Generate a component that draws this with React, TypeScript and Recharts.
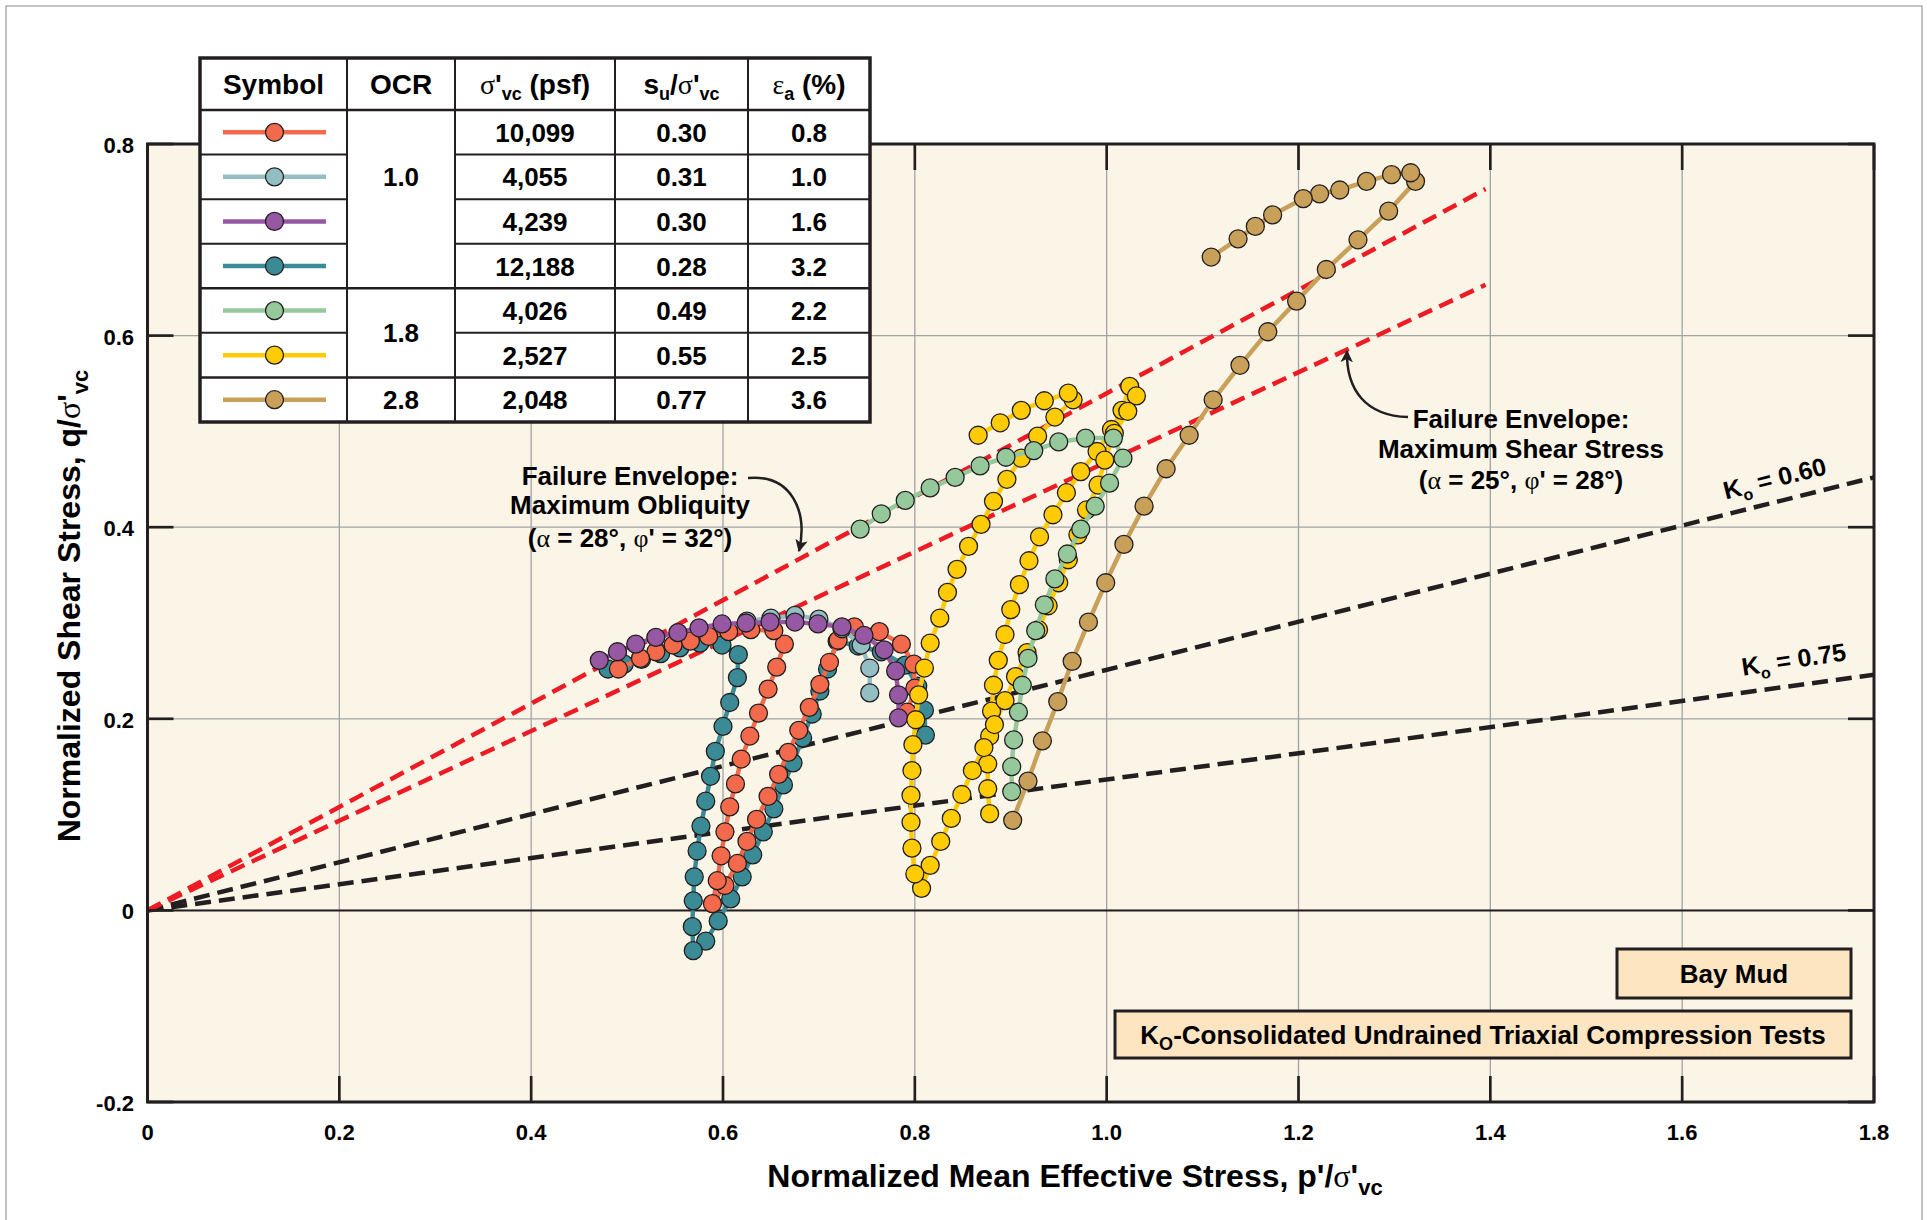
import React from 'react';
import { ScatterChart, Scatter, XAxis, YAxis, CartesianGrid } from 'recharts';

type Pt = [number, number];

// axis ticks
const xTicks = [0, 0.2, 0.4, 0.6, 0.8, 1.0, 1.2, 1.4, 1.6, 1.8];
const yTicks = [-0.2, 0, 0.2, 0.4, 0.6, 0.8];

// stress paths, [p'/s'vc, q/s'vc]
const test10099: Pt[] = [
  [0.792, 0.207], [0.8, 0.232], [0.799, 0.257], [0.786, 0.278], [0.763, 0.291], [0.737, 0.296],
  [0.72, 0.282], [0.711, 0.259], [0.701, 0.236], [0.69, 0.212], [0.679, 0.188], [0.668, 0.165],
  [0.658, 0.142], [0.647, 0.119], [0.635, 0.095], [0.625, 0.072], [0.615, 0.049], [0.602, 0.026],
  [0.589, 0.007], [0.594, 0.031], [0.598, 0.057], [0.602, 0.082], [0.607, 0.108], [0.613, 0.132],
  [0.619, 0.158], [0.628, 0.182], [0.637, 0.206], [0.647, 0.231], [0.656, 0.254], [0.664, 0.278],
  [0.653, 0.292], [0.629, 0.293], [0.606, 0.291], [0.585, 0.286], [0.566, 0.281], [0.548, 0.277],
  [0.53, 0.27], [0.514, 0.263], [0.491, 0.252],
];
const test4055: Pt[] = [
  [0.753, 0.227], [0.753, 0.253], [0.744, 0.277], [0.724, 0.294], [0.7, 0.304], [0.675, 0.308],
  [0.65, 0.305], [0.625, 0.302],
];
const test4239: Pt[] = [
  [0.783, 0.201], [0.783, 0.225], [0.78, 0.25], [0.768, 0.272], [0.747, 0.287], [0.724, 0.296],
  [0.699, 0.299], [0.675, 0.301], [0.649, 0.301], [0.624, 0.3], [0.599, 0.299], [0.575, 0.295],
  [0.553, 0.29], [0.53, 0.285], [0.509, 0.278], [0.49, 0.27], [0.471, 0.261],
];
const test12188: Pt[] = [
  [0.811, 0.183], [0.81, 0.209], [0.803, 0.234], [0.79, 0.256], [0.765, 0.27], [0.741, 0.276],
  [0.719, 0.281], [0.709, 0.252], [0.701, 0.229], [0.693, 0.205], [0.683, 0.18], [0.673, 0.154],
  [0.663, 0.131], [0.653, 0.106], [0.642, 0.082], [0.631, 0.058], [0.62, 0.035], [0.608, 0.012],
  [0.595, -0.011], [0.582, -0.032], [0.569, -0.042], [0.568, -0.017], [0.569, 0.01], [0.57, 0.035],
  [0.573, 0.062], [0.577, 0.088], [0.582, 0.114], [0.587, 0.14], [0.592, 0.166], [0.6, 0.192],
  [0.607, 0.217], [0.615, 0.243], [0.616, 0.267], [0.599, 0.277], [0.576, 0.279], [0.555, 0.274],
  [0.535, 0.268], [0.515, 0.262], [0.497, 0.257], [0.48, 0.252],
];
const test4026: Pt[] = [
  [0.901, 0.124], [0.901, 0.15], [0.903, 0.178], [0.908, 0.207], [0.912, 0.235], [0.918, 0.263],
  [0.926, 0.292], [0.935, 0.319], [0.946, 0.346], [0.959, 0.372], [0.973, 0.398], [0.988, 0.422],
  [1.003, 0.446], [1.017, 0.472], [1.007, 0.493], [0.978, 0.493], [0.95, 0.489], [0.924, 0.48],
  [0.895, 0.473], [0.868, 0.464], [0.842, 0.452], [0.816, 0.441], [0.79, 0.428], [0.765, 0.414],
  [0.743, 0.398],
];
const test2527: Pt[] = [
  [0.878, 0.101], [0.876, 0.127], [0.876, 0.153], [0.878, 0.182], [0.88, 0.208], [0.882, 0.235],
  [0.887, 0.261], [0.894, 0.288], [0.9, 0.314], [0.909, 0.34], [0.919, 0.365], [0.93, 0.39],
  [0.944, 0.413], [0.958, 0.436], [0.973, 0.458], [0.99, 0.479], [1.005, 0.502], [1.016, 0.522],
  [1.024, 0.547], [1.031, 0.537], [1.022, 0.521], [1.008, 0.498], [0.998, 0.47], [0.991, 0.444],
  [0.979, 0.418], [0.97, 0.392], [0.96, 0.366], [0.95, 0.342], [0.939, 0.318], [0.929, 0.293],
  [0.917, 0.269], [0.905, 0.244], [0.894, 0.219], [0.883, 0.194], [0.872, 0.17], [0.86, 0.146],
  [0.849, 0.121], [0.838, 0.096], [0.827, 0.072], [0.816, 0.047], [0.807, 0.023], [0.8, 0.038],
  [0.797, 0.065], [0.796, 0.092], [0.796, 0.12], [0.797, 0.146], [0.798, 0.173], [0.801, 0.199],
  [0.804, 0.225], [0.81, 0.253], [0.816, 0.279], [0.826, 0.305], [0.834, 0.332], [0.844, 0.356],
  [0.856, 0.38], [0.869, 0.403], [0.882, 0.427], [0.896, 0.45], [0.911, 0.472], [0.928, 0.495],
  [0.946, 0.515], [0.965, 0.533], [0.96, 0.54], [0.935, 0.532], [0.911, 0.522], [0.889, 0.509],
  [0.866, 0.496],
];
const test2048: Pt[] = [
  [0.902, 0.094], [0.918, 0.135], [0.933, 0.177], [0.949, 0.218], [0.964, 0.26], [0.981, 0.301],
  [0.999, 0.342], [1.018, 0.382], [1.039, 0.422], [1.062, 0.461], [1.086, 0.496], [1.111, 0.533],
  [1.139, 0.569], [1.168, 0.604], [1.198, 0.636], [1.229, 0.669], [1.262, 0.7], [1.294, 0.73],
  [1.322, 0.761], [1.317, 0.77], [1.297, 0.768], [1.271, 0.761], [1.243, 0.752], [1.222, 0.748],
  [1.205, 0.743], [1.173, 0.726], [1.155, 0.714], [1.137, 0.701], [1.109, 0.682],
];

// reference lines
const envelopeObliquity: Pt[] = [[0, 0], [1.395, 0.753]];
const envelopeShear: Pt[] = [[0, 0], [1.395, 0.653]];
const ko060: Pt[] = [[0, 0], [1.8, 0.452]];
const ko075: Pt[] = [[0, 0], [1.8, 0.246]];
const zeroLine: Pt[] = [[0, 0], [1.8, 0]];

// legend table
const stressLabels = ['10,099', '4,055', '4,239', '12,188', '4,026', '2,527', '2,048'];
const suRatios = ['0.30', '0.31', '0.30', '0.28', '0.49', '0.55', '0.77'];
const strains = ['0.8', '1.0', '1.6', '3.2', '2.2', '2.5', '3.6'];
const ocrGroups = [
  { label: '1.0', rows: 4, labelRows: 3 },
  { label: '1.8', rows: 2, labelRows: 2 },
  { label: '2.8', rows: 1, labelRows: 1 },
];
const legendColors = ['#f26a4b', '#93bfc4', '#9657a3', '#3b8b96', '#95c99b', '#ffcb05', '#c8a05a'];

const FONT = '"Liberation Sans", Arial, sans-serif';
const SERIF = '"Liberation Serif", "DejaVu Serif", serif';
const INK = '#231f20';
const W = 1927;
const H = 1220;
const PLOT = { left: 147.5, top: 144, right: 1874, bottom: 1102 };

const toPoints = (pts: Pt[]) => pts.map(([p, q]) => ({ p, q }));
const fmt = (v: number) => (v === 0 ? '0' : v.toFixed(1));

const dot = (color: string) => (props: any) => (
  <circle cx={props.cx} cy={props.cy} r={9} fill={color} stroke={INK} strokeWidth={1.3} />
);
const noDot = () => <g />;

const XTick = (props: any) => {
  const { x, payload } = props;
  return (
    <g>
      <line x1={x} x2={x} y1={PLOT.bottom} y2={PLOT.bottom - 26} stroke={INK} strokeWidth={2.7} />
      <line x1={x} x2={x} y1={PLOT.top} y2={PLOT.top + 26} stroke={INK} strokeWidth={2.7} />
      <text x={x} y={1140} textAnchor="middle" fontFamily={FONT} fontWeight="bold" fontSize={22} fill="#000">
        {fmt(payload.value)}
      </text>
    </g>
  );
};

const YTick = (props: any) => {
  const { y, payload } = props;
  return (
    <g>
      <line x1={PLOT.left} x2={PLOT.left + 26} y1={y} y2={y} stroke={INK} strokeWidth={2.7} />
      <line x1={PLOT.right} x2={PLOT.right - 26} y1={y} y2={y} stroke={INK} strokeWidth={2.7} />
      <text x={134} y={y + 9} textAnchor="end" fontFamily={FONT} fontWeight="bold" fontSize={22} fill="#000">
        {fmt(payload.value)}
      </text>
    </g>
  );
};

const dashed = [
  { data: ko075, color: INK, dash: '16 8' },
  { data: ko060, color: INK, dash: '16 8' },
  { data: envelopeShear, color: '#ed1c24', dash: '15 8' },
  { data: envelopeObliquity, color: '#ed1c24', dash: '15 8' },
];

// drawing order as seen in the figure
const tests = [
  { data: test12188, color: legendColors[3] },
  { data: test10099, color: legendColors[0] },
  { data: test4055, color: legendColors[1] },
  { data: test4239, color: legendColors[2] },
  { data: test2527, color: legendColors[5] },
  { data: test4026, color: legendColors[4] },
  { data: test2048, color: legendColors[6] },
];

const TBL = { x: [200, 347, 455, 615, 748, 870], top: 58, head: 110, bottom: 422 };

const LegendTable = () => {
  const rowH = (TBL.bottom - TBL.head) / stressLabels.length;
  const rowTop = (i: number) => TBL.head + i * rowH;
  const cx = (c: number) => (TBL.x[c] + TBL.x[c + 1]) / 2;
  const groupEnds: number[] = [];
  let acc = 0;
  ocrGroups.forEach((g) => { acc += g.rows; groupEnds.push(acc); });
  const cell = { fontFamily: FONT, fontWeight: 'bold' as const, fontSize: 26, textAnchor: 'middle' as const, fill: '#000' };
  const head = { ...cell, fontSize: 28 };
  const hy = (TBL.top + TBL.head) / 2 + 10;
  return (
    <g>
      <rect x={TBL.x[0]} y={TBL.top} width={TBL.x[5] - TBL.x[0]} height={TBL.bottom - TBL.top} fill="#fff" />
      {stressLabels.map((_, i) => {
        const y = rowTop(i + 1);
        if (i === stressLabels.length - 1) return null;
        const full = groupEnds.includes(i + 1);
        return full ? (
          <line key={i} x1={TBL.x[0]} x2={TBL.x[5]} y1={y} y2={y} stroke={INK} strokeWidth={2.5} />
        ) : (
          <g key={i}>
            <line x1={TBL.x[0]} x2={TBL.x[1]} y1={y} y2={y} stroke={INK} strokeWidth={2} />
            <line x1={TBL.x[2]} x2={TBL.x[5]} y1={y} y2={y} stroke={INK} strokeWidth={2} />
          </g>
        );
      })}
      <line x1={TBL.x[0]} x2={TBL.x[5]} y1={TBL.head} y2={TBL.head} stroke={INK} strokeWidth={2.5} />
      {TBL.x.slice(1, 5).map((x) => (
        <line key={x} x1={x} x2={x} y1={TBL.top} y2={TBL.bottom} stroke={INK} strokeWidth={2} />
      ))}
      <rect x={TBL.x[0]} y={TBL.top} width={TBL.x[5] - TBL.x[0]} height={TBL.bottom - TBL.top} fill="none" stroke={INK} strokeWidth={3.5} />

      <text x={cx(0)} y={hy} {...head}>Symbol</text>
      <text x={cx(1)} y={hy} {...head}>OCR</text>
      <text x={cx(2)} y={hy} {...head}>
        <tspan fontFamily={SERIF} fontWeight="normal">σ</tspan>'<tspan fontSize={18} dy={6}>vc</tspan>
        <tspan dy={-6}> (psf)</tspan>
      </text>
      <text x={cx(3)} y={hy} {...head}>
        s<tspan fontSize={18} dy={6}>u</tspan><tspan dy={-6}>/</tspan>
        <tspan fontFamily={SERIF} fontWeight="normal">σ</tspan>'<tspan fontSize={18} dy={6}>vc</tspan>
      </text>
      <text x={cx(4)} y={hy} {...head}>
        <tspan fontFamily={SERIF} fontWeight="normal">ε</tspan><tspan fontSize={18} dy={6}>a</tspan>
        <tspan dy={-6}> (%)</tspan>
      </text>

      {stressLabels.map((s, i) => {
        const yc = rowTop(i) + rowH / 2;
        return (
          <g key={s + i}>
            <line x1={223} x2={326} y1={yc} y2={yc} stroke={legendColors[i]} strokeWidth={4.5} />
            <circle cx={274.5} cy={yc} r={9} fill={legendColors[i]} stroke={INK} strokeWidth={1.3} />
            <text x={cx(2)} y={yc + 9.5} {...cell}>{s}</text>
            <text x={cx(3)} y={yc + 9.5} {...cell}>{suRatios[i]}</text>
            <text x={cx(4)} y={yc + 9.5} {...cell}>{strains[i]}</text>
          </g>
        );
      })}
      {ocrGroups.map((g, gi) => {
        const start = gi === 0 ? 0 : groupEnds[gi - 1];
        const yc = rowTop(start) + (g.labelRows * rowH) / 2;
        return <text key={g.label} x={cx(1)} y={yc + 9.5} {...cell}>{g.label}</text>;
      })}
    </g>
  );
};

const Overlay = () => {
  const txt = { fontFamily: FONT, fontWeight: 'bold' as const, fontSize: 26, textAnchor: 'middle' as const, fill: '#000' };
  const greek = { fontFamily: SERIF, fontWeight: 'normal' as const };
  return (
    <svg width={W} height={H} style={{ position: 'absolute', left: 0, top: 0, pointerEvents: 'none' }}>
      <defs>
        <marker id="arrowHead" viewBox="0 0 10 10" refX={9} refY={5} markerWidth={5} markerHeight={5} orient="auto">
          <path d="M0,0 L10,5 L0,10 L2.5,5 z" fill={INK} />
        </marker>
      </defs>
      <rect x={6} y={6} width={1916} height={1240} fill="none" stroke="#9a9a9a" strokeWidth={1.2} />
      <rect x={PLOT.left} y={PLOT.top} width={PLOT.right - PLOT.left} height={PLOT.bottom - PLOT.top} fill="none" stroke={INK} strokeWidth={3} />

      <LegendTable />

      {/* envelope annotations */}
      <text x={630} y={485} {...txt}>Failure Envelope:</text>
      <text x={630} y={514} {...txt}>Maximum Obliquity</text>
      <text x={630} y={547} {...txt}>
        (<tspan {...greek}>α</tspan> = 28°, <tspan {...greek}>φ</tspan>' = 32°)
      </text>
      <path d="M 748 478 C 792 474, 808 512, 799 551" fill="none" stroke={INK} strokeWidth={2.5} markerEnd="url(#arrowHead)" />

      <text x={1521} y={428} {...txt}>Failure Envelope:</text>
      <text x={1521} y={458} {...txt}>Maximum Shear Stress</text>
      <text x={1521} y={489} {...txt}>
        (<tspan {...greek}>α</tspan> = 25°, <tspan {...greek}>φ</tspan>' = 28°)
      </text>
      <path d="M 1408 417 C 1366 416, 1346 390, 1347 351" fill="none" stroke={INK} strokeWidth={2.5} markerEnd="url(#arrowHead)" />

      <text x={1775} y={487} {...txt} fontSize={25} transform="rotate(-14 1775 480)">
        K<tspan fontSize={16} dy={6}>o</tspan><tspan dy={-6}> = 0.60</tspan>
      </text>
      <text x={1794} y={668} {...txt} fontSize={25} transform="rotate(-8.5 1794 661)">
        K<tspan fontSize={16} dy={6}>o</tspan><tspan dy={-6}> = 0.75</tspan>
      </text>

      {/* boxes */}
      <rect x={1617} y={949} width={234} height={49} fill="#fde5c2" stroke={INK} strokeWidth={3} />
      <text x={1734} y={983} {...txt}>Bay Mud</text>
      <rect x={1115} y={1011} width={736} height={47} fill="#fde5c2" stroke={INK} strokeWidth={3} />
      <text x={1483} y={1044} {...txt}>
        K<tspan fontSize={18} dy={6}>O</tspan><tspan dy={-6}>-Consolidated Undrained Triaxial Compression Tests</tspan>
      </text>

      {/* axis titles */}
      <text x={1075} y={1187} {...txt} fontSize={32}>
        Normalized Mean Effective Stress, p'/<tspan {...greek}>σ</tspan>'<tspan fontSize={22} dy={8}>vc</tspan>
      </text>
      <text x={80} y={606} {...txt} fontSize={32} transform="rotate(-90 80 606)">
        Normalized Shear Stress, q/<tspan {...greek}>σ</tspan>'<tspan fontSize={22} dy={8}>vc</tspan>
      </text>
    </svg>
  );
};

export default function App() {
  return (
    <div style={{ position: 'absolute', left: 0, top: 0, width: W, height: H, background: '#fff' }}>
      <ScatterChart
        width={W}
        height={H}
        margin={{ top: PLOT.top, right: W - PLOT.right, bottom: H - PLOT.bottom - 30, left: PLOT.left - 60 }}
      >
        <CartesianGrid stroke="#a3a3a3" strokeWidth={1.3} fill="#fbf5e8" fillOpacity={1} />
        <XAxis
          type="number"
          dataKey="p"
          domain={[0, 1.8]}
          ticks={xTicks}
          interval={0}
          height={30}
          axisLine={false}
          tickLine={false}
          tick={(props: any) => <XTick {...props} />}
          allowDataOverflow
        />
        <YAxis
          type="number"
          dataKey="q"
          domain={[-0.2, 0.8]}
          ticks={yTicks}
          interval={0}
          width={60}
          axisLine={false}
          tickLine={false}
          tick={(props: any) => <YTick {...props} />}
          allowDataOverflow
        />
        <Scatter data={toPoints(zeroLine)} shape={noDot} line={{ stroke: INK, strokeWidth: 2 }} lineType="joint" fill={INK} isAnimationActive={false} />
        {dashed.map((d, i) => (
          <Scatter
            key={'d' + i}
            data={toPoints(d.data)}
            shape={noDot}
            fill={d.color}
            line={{ stroke: d.color, strokeWidth: 4.5, strokeDasharray: d.dash }}
            lineType="joint"
            isAnimationActive={false}
          />
        ))}
        {tests.map((t, i) => (
          <Scatter
            key={'t' + i}
            data={toPoints(t.data)}
            shape={dot(t.color)}
            fill={t.color}
            line={{ stroke: t.color, strokeWidth: 4.5 }}
            lineType="joint"
            isAnimationActive={false}
          />
        ))}
      </ScatterChart>
      <Overlay />
    </div>
  );
}
